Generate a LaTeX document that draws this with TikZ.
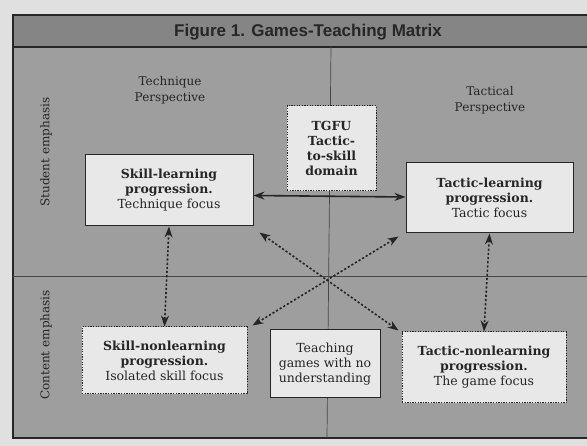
\documentclass[tikz,border=0pt]{standalone}
\usepackage{fontspec}
\setmainfont{DejaVu Serif}
\newfontfamily\titlefont{Liberation Sans}
\usetikzlibrary{arrows.meta}
\definecolor{paper}{gray}{0.88}
\definecolor{panel}{gray}{0.62}
\definecolor{band}{gray}{0.52}
\definecolor{boxfill}{gray}{0.91}
\definecolor{ink}{gray}{0.15}

\begin{document}
\begin{tikzpicture}[x=1pt, y=-1pt, thick, text=ink,
    font=\fontsize{12.5}{15}\selectfont,
    box/.style = {draw=ink, fill=boxfill, align=center, inner sep=0pt, line width=1pt},
    dotbox/.style = {box, dash pattern=on 1.3pt off 1.3pt},
    link/.style = {draw=ink, line width=1.6pt, {Stealth[length=11pt,width=8pt]}-{Stealth[length=11pt,width=8pt]}},
    dotlink/.style = {link, dash pattern=on 2.2pt off 2pt},
    persp/.style = {align=center, font=\fontsize{12}{16}\selectfont}]
    \clip (0,0) rectangle (587,446);
    \fill[paper] (0,0) rectangle (587,446);
    % frame and title band
    \fill[panel] (13,15) rectangle (600,438);
    \fill[band] (13,15) rectangle (600,47);
    \draw[ink, line width=1.6pt] (13,15) rectangle (600,438);
    \draw[ink, line width=1.3pt] (13,47) -- (600,47);
    \node[font=\titlefont\bfseries\fontsize{17}{20}\selectfont] (title) at (308,32) {Figure 1. Games-Teaching Matrix};
    % quadrant dividers
    \draw[ink!85, line width=0.7pt] (331,47) -- (327,438);
    \draw[ink!85, line width=0.7pt] (13,276) -- (600,276);
    % axis labels
    \node[rotate=90, font=\fontsize{12}{14}\selectfont] (stud) at (46,152) {Student emphasis};
    \node[rotate=90, font=\fontsize{12}{14}\selectfont] (cont) at (46,345) {Content emphasis};
    \node[persp] (tech) at (170,90) {Technique\\Perspective};
    \node[persp] (tact) at (490,100) {Tactical\\Perspective};
    % boxes
    \node[box, minimum width=168pt, minimum height=71pt] (skl) at (169,190.5)
        {\textbf{Skill-learning}\\\textbf{progression.}\\Technique focus};
    \node[dotbox, minimum width=89pt, minimum height=85pt] (tgfu) at (331.5,148.5)
        {\textbf{TGFU}\\\textbf{Tactic-}\\\textbf{to-skill}\\\textbf{domain}};
    \node[box, minimum width=167pt, minimum height=70pt] (tcl) at (489.5,198)
        {\textbf{Tactic-learning}\\\textbf{progression.}\\Tactic focus};
    \node[dotbox, minimum width=165pt, minimum height=67pt] (skn) at (164.5,360.5)
        {\textbf{Skill-nonlearning}\\\textbf{progression.}\\Isolated skill focus};
    \node[box, minimum width=110pt, minimum height=68pt] (tgn) at (325,364)
        {Teaching\\games with no\\understanding};
    \node[dotbox, minimum width=164pt, minimum height=71pt] (tcn) at (484,367.5)
        {\textbf{Tactic-nonlearning}\\\textbf{progression.}\\The game focus};
    % connections
    \draw[link] ([yshift=-5pt]skl.east) -- ([yshift=1pt]tcl.west);
    \draw[dotlink] (skl.south) -- (skn.north);
    \draw[dotlink] (tcl.south) -- (tcn.north);
    \draw[dotlink] ([xshift=6pt,yshift=-6pt]skl.south east) -- ([xshift=-3pt,yshift=1pt]tcn.north west);
    \draw[dotlink] ([xshift=-7pt,yshift=-3pt]tcl.south west) -- ([xshift=5pt,yshift=1pt]skn.north east);
\end{tikzpicture}
\end{document}
